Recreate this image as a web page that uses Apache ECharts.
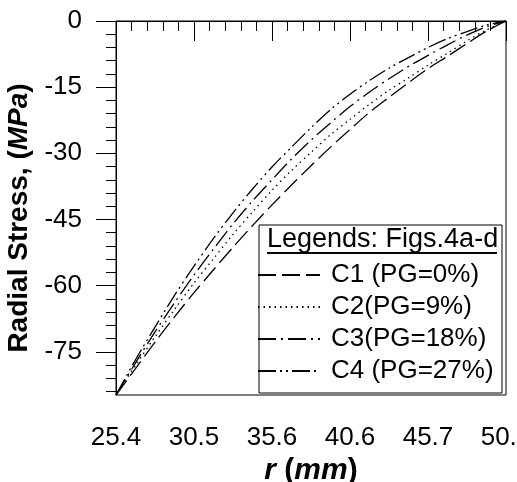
<!DOCTYPE html>
<html>
<head>
<meta charset="utf-8">
<script src="https://cdn.jsdelivr.net/npm/echarts@6/dist/echarts.min.js"></script>
<style>
  html, body { margin: 0; padding: 0; background: #fff; overflow: hidden; }
  #chart { width: 517px; height: 482px; }
</style>
</head>
<body>
<div id="chart"></div>
<script>
// radius r (mm)
const rValues = [25.4, 26.67, 27.94, 29.21, 30.48, 31.75, 33.02, 34.29, 35.56, 36.83, 38.1,
  39.37, 40.64, 41.91, 43.18, 44.45, 45.72, 46.99, 48.26, 49.53, 50.8]

// radial stress (MPa)
const c1 = [-84.8, -78.8, -72.8, -67.1, -61.6, -56.4, -51.3, -46.4, -41.7, -37.2, -32.8,
  -28.6, -24.6, -20.7, -17.3, -14.0, -10.8, -8.0, -5.1, -2.3, 0]
const c2 = [-84.8, -78.1, -71.6, -65.4, -59.4, -53.9, -48.4, -43.3, -38.4, -33.9, -29.8,
  -25.8, -22.3, -18.9, -15.7, -12.9, -10.0, -7.3, -4.5, -2.0, 0]
const c3 = [-84.8, -77.5, -70.5, -63.9, -57.6, -51.7, -46.0, -40.8, -36.0, -31.3, -27.0,
  -23.1, -19.4, -16.1, -13.1, -10.3, -7.8, -5.4, -3.2, -1.3, 0]
const c4 = [-84.8, -76.8, -69.4, -62.2, -55.6, -49.3, -43.5, -38.1, -33.1, -28.6, -24.2,
  -20.1, -16.6, -13.5, -10.7, -8.3, -6.0, -4.0, -2.4, -0.9, 0]

const seriesNames = ['C1 (PG=0%)', 'C2(PG=9%)', 'C3(PG=18%)', 'C4 (PG=27%)']

// ticks
const xMajor = [25.4, 30.48, 35.56, 40.64, 45.72, 50.8]
const xMajorLabels = ['25.4', '30.5', '35.6', '40.6', '45.7', '50.8']
const xMinor = [26.416, 27.432, 28.448, 29.464, 31.496, 32.512, 33.528, 34.544, 36.576, 37.592,
  38.608, 39.624, 41.656, 42.672, 43.688, 44.704, 46.736, 47.752, 48.768, 49.784]
const yMajor = [0, -15, -30, -45, -60, -75]
const yMinor = [-3, -6, -9, -12, -18, -21, -24, -27, -33, -36, -39, -42, -48, -51, -54, -57,
  -63, -66, -69, -72, -78, -81, -84]

const X_MIN = 25.4, X_MAX = 50.8, Y_MIN = -84.8, Y_MAX = 0

const FONT = 'Liberation Sans, Arial, sans-serif'
const dashes = [[18, 6], [1.5, 4], [18, 5, 2, 5], [18, 4, 2, 4, 2, 4]]

const toPairs = ys => rValues.map((r, i) => [r, ys[i]])

const chart = echarts.init(document.getElementById('chart'))

chart.setOption({
  animation: false,
  textStyle: { fontFamily: FONT },
  grid: {
    left: 116, right: 11, top: 21, bottom: 87,
    outerBoundsMode: 'none',
    containLabel: false,
    show: true, borderColor: '#000', borderWidth: 1
  },
  xAxis: [
    {
      type: 'value', min: X_MIN, max: X_MAX,
      axisLine: { show: true, lineStyle: { color: '#000', width: 1 } },
      axisTick: { show: true, customValues: xMajor, length: 20, lineStyle: { color: '#000', width: 1 } },
      axisLabel: {
        show: true, customValues: xMajor, margin: 30,
        fontSize: 26, color: '#000', fontFamily: FONT,
        formatter: v => xMajorLabels[xMajor.findIndex(m => Math.abs(m - v) < 1e-6)] || ''
      },
      splitLine: { show: false },
      name: '{i|r} ({i|mm})',
      nameLocation: 'middle',
      nameGap: 47,
      nameTextStyle: {
        fontSize: 30, lineHeight: 30, fontWeight: 'bold', color: '#000', fontFamily: FONT,
        rich: { i: { fontSize: 30, lineHeight: 30, fontWeight: 'bold', fontStyle: 'italic', fontFamily: FONT } }
      }
    },
    {
      type: 'value', min: X_MIN, max: X_MAX, position: 'bottom',
      axisLine: { show: false },
      axisTick: { show: true, customValues: xMinor, length: 10, lineStyle: { color: '#000', width: 1 } },
      axisLabel: { show: false },
      splitLine: { show: false }
    }
  ],
  yAxis: [
    {
      type: 'value', min: Y_MIN, max: Y_MAX,
      axisLine: { show: true, lineStyle: { color: '#000', width: 1 } },
      axisTick: { show: true, customValues: yMajor, length: 20, lineStyle: { color: '#000', width: 1 } },
      axisLabel: {
        show: true, customValues: yMajor, margin: 34,
        fontSize: 26, color: '#000', fontFamily: FONT
      },
      splitLine: { show: false },
      name: 'Radial Stress, ({i|MPa})',
      nameLocation: 'middle',
      nameGap: 81,
      nameTextStyle: {
        fontSize: 28, lineHeight: 28, fontWeight: 'bold', color: '#000', fontFamily: FONT,
        padding: [0, 20, 0, 0],
        rich: { i: { fontSize: 28, lineHeight: 28, fontWeight: 'bold', fontStyle: 'italic', fontFamily: FONT } }
      }
    },
    {
      type: 'value', min: Y_MIN, max: Y_MAX, position: 'left',
      axisLine: { show: false },
      axisTick: { show: true, customValues: yMinor, length: 10, lineStyle: { color: '#000', width: 1 } },
      axisLabel: { show: false },
      splitLine: { show: false }
    }
  ],
  legend: {
    orient: 'vertical',
    left: 252, top: 257,
    itemWidth: 62, itemHeight: 14, itemGap: 6,
    data: seriesNames,
    itemStyle: { opacity: 0 },
    textStyle: { fontSize: 26, color: '#000', fontFamily: FONT, padding: [0, 0, 0, 6] },
    z: 20
  },
  graphic: [
    {
      type: 'rect', z: 10,
      shape: { x: 259, y: 225, width: 243, height: 168 },
      style: { fill: '#fff', stroke: '#000', lineWidth: 1 }
    },
    {
      type: 'text', z: 11, x: 267, y: 240,
      style: { text: 'Legends: Figs.4a-d', font: '27px ' + FONT, fill: '#000', textVerticalAlign: 'middle' }
    },
    {
      type: 'line', z: 11,
      shape: { x1: 267, y1: 253, x2: 497, y2: 253 },
      style: { stroke: '#000', lineWidth: 2 }
    }
  ],
  series: [c1, c2, c3, c4].map((ys, i) => ({
    name: seriesNames[i],
    type: 'line',
    xAxisIndex: 0,
    yAxisIndex: 0,
    data: toPairs(ys),
    smooth: 0.3,
    symbol: 'none',
    lineStyle: { color: '#000', width: 1.3, type: dashes[i] }
  }))
})
</script>
</body>
</html>
